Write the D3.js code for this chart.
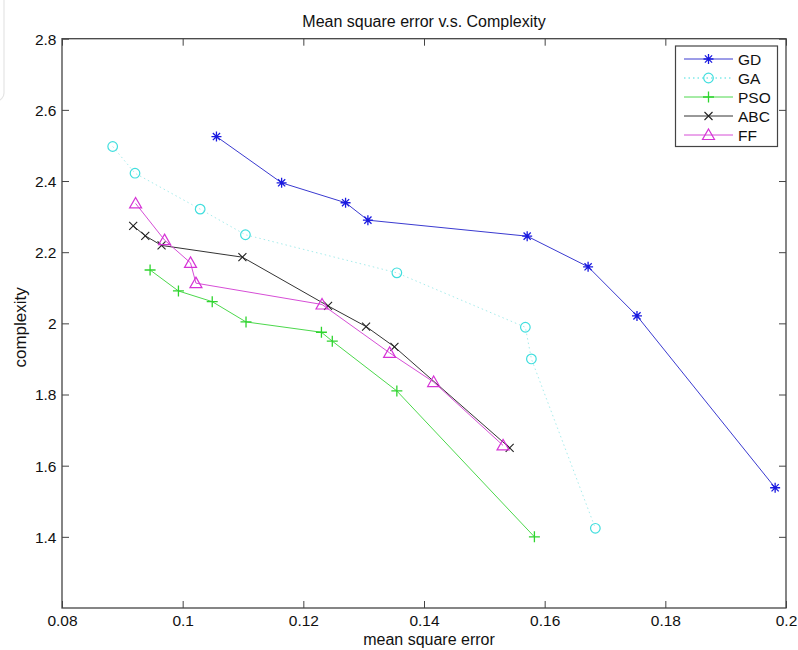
<!DOCTYPE html>
<html><head><meta charset="utf-8">
<script src="https://cdn.jsdelivr.net/npm/d3@7"></script>
<style>body{margin:0;background:#fff}svg{display:block}text{font-family:"Liberation Sans",Arial,sans-serif}</style>
</head><body><svg id="c" width="798" height="650"></svg>
<script>
const seriesNames = ["GD","GA","PSO","ABC","FF"];
const gdX = [0.1056,0.1164,0.1270,0.1307,0.1571,0.1672,0.1753,0.1982];
const gdY = [2.525,2.395,2.339,2.290,2.245,2.159,2.021,1.538];
const gaX = [0.0884,0.0921,0.1029,0.1104,0.1355,0.1568,0.1578,0.1684];
const gaY = [2.497,2.422,2.321,2.249,2.142,1.989,1.900,1.424];
const psoX = [0.0946,0.0993,0.1049,0.1105,0.1230,0.1248,0.1355,0.1583];
const psoY = [2.150,2.091,2.061,2.004,1.975,1.950,1.810,1.400];
const abcX = [0.0918,0.0938,0.0965,0.1099,0.1241,0.1304,0.1351,0.1542];
const abcY = [2.274,2.246,2.219,2.186,2.049,1.991,1.934,1.650];
const ffX = [0.0922,0.0970,0.1013,0.1022,0.1231,0.1343,0.1416,0.1531];
const ffY = [2.337,2.234,2.170,2.113,2.053,1.917,1.835,1.657];
const xTicks = [0.08,0.1,0.12,0.14,0.16,0.18,0.2];
const yTicks = [1.4,1.6,1.8,2,2.2,2.4,2.6,2.8];

const styles = {
  GD:{color:"#1a1ae0", lineColor:"#3a3ad0", marker:"star", dash:null},
  GA:{color:"#40dede", lineColor:"#a6ecec", marker:"circle", dash:"1.5,3"},
  PSO:{color:"#2ed42e", lineColor:"#4cd84c", marker:"plus", dash:null},
  ABC:{color:"#222", lineColor:"#333", marker:"x", dash:null},
  FF:{color:"#d633d6", lineColor:"#d64ed6", marker:"tri", dash:null}
};
const series = [
  {name:"GD", x:gdX, y:gdY},
  {name:"GA", x:gaX, y:gaY},
  {name:"PSO", x:psoX, y:psoY},
  {name:"ABC", x:abcX, y:abcY},
  {name:"FF", x:ffX, y:ffY}
];

const svg = d3.select("#c");
const L=62, R=786, T=38.7, B=608;
const x = d3.scaleLinear().domain([0.08,0.2]).range([L,R]);
const y = d3.scaleLinear().domain([1.2,2.8]).range([B,T]);

// faint artifact at top-left
svg.append("rect").attr("x",-20).attr("y",-10).attr("width",24).attr("height",111).attr("rx",8)
  .attr("fill","none").attr("stroke","#e4e4e4").attr("stroke-width",1.2);

const axisColor = "#444";
const tl = 7;
const gx = svg.append("g").attr("transform",`translate(0,${B})`)
  .call(d3.axisBottom(x).tickValues(xTicks).tickSize(-tl).tickFormat(d=>String(+d.toFixed(2))));
const gxt = svg.append("g").attr("transform",`translate(0,${T})`)
  .call(d3.axisTop(x).tickValues(xTicks).tickSize(-tl).tickFormat(""));
const gy = svg.append("g").attr("transform",`translate(${L},0)`)
  .call(d3.axisLeft(y).tickValues(yTicks).tickSize(-tl).tickFormat(d=>String(+d.toFixed(1))));
const gyr = svg.append("g").attr("transform",`translate(${R},0)`)
  .call(d3.axisRight(y).tickValues(yTicks).tickSize(-tl).tickFormat(""));
[gx,gxt,gy,gyr].forEach(g=>{
  g.select(".domain").remove();
  g.selectAll(".tick line").attr("stroke",axisColor);
  g.selectAll(".tick text").attr("fill","#111").attr("font-size",15.5).attr("font-family","Liberation Sans, Arial, sans-serif");
});
gy.selectAll(".tick text").attr("x",-5.5).attr("dy","0.35em");
gx.selectAll(".tick text").attr("dy",0).attr("y",18.2);
svg.append("rect").attr("x",L).attr("y",T).attr("width",R-L).attr("height",B-T)
  .attr("fill","none").attr("stroke",axisColor).attr("stroke-width",1.3);

function marker(g, type, color, cx, cy){
  if(type==="star"){
    const s=5;
    g.append("path").attr("d",`M${cx-s},${cy}L${cx+s},${cy}M${cx},${cy-s}L${cx},${cy+s}M${cx-3.6},${cy-3.6}L${cx+3.6},${cy+3.6}M${cx-3.6},${cy+3.6}L${cx+3.6},${cy-3.6}`)
      .attr("stroke",color).attr("stroke-width",1.3).attr("fill","none");
  } else if(type==="circle"){
    g.append("circle").attr("cx",cx).attr("cy",cy).attr("r",4.8).attr("fill","none").attr("stroke",color).attr("stroke-width",1.2);
  } else if(type==="plus"){
    const s=5.5;
    g.append("path").attr("d",`M${cx-s},${cy}L${cx+s},${cy}M${cx},${cy-s}L${cx},${cy+s}`).attr("stroke",color).attr("stroke-width",1.3);
  } else if(type==="x"){
    const s=4;
    g.append("path").attr("d",`M${cx-s},${cy-s}L${cx+s},${cy+s}M${cx-s},${cy+s}L${cx+s},${cy-s}`).attr("stroke",color).attr("stroke-width",1.1);
  } else if(type==="tri"){
    const s=6;
    g.append("path").attr("d",`M${cx},${cy-s}L${cx+s},${cy+s*0.75}L${cx-s},${cy+s*0.75}Z`).attr("fill","none").attr("stroke",color).attr("stroke-width",1.2);
  }
}

const line = d3.line().x(d=>x(d[0])).y(d=>y(d[1]));
series.forEach(s=>{
  const st = styles[s.name];
  const pts = s.x.map((v,i)=>[v,s.y[i]]);
  const g = svg.append("g");
  g.append("path").attr("d",line(pts)).attr("fill","none").attr("stroke",st.lineColor)
    .attr("stroke-width",1).attr("stroke-dasharray",st.dash);
  pts.forEach(p=>marker(g, st.marker, st.color, x(p[0]), y(p[1])));
});

// legend
const lg = svg.append("g");
lg.append("rect").attr("x",675.5).attr("y",46).attr("width",102).attr("height",100.5)
  .attr("fill","#fff").attr("stroke",axisColor).attr("stroke-width",1.2);
series.forEach((s,i)=>{
  const st = styles[s.name];
  const yy = 59 + i*19;
  lg.append("line").attr("x1",684).attr("x2",733).attr("y1",yy).attr("y2",yy)
    .attr("stroke",st.dash?st.color:st.lineColor).attr("stroke-width",1).attr("stroke-dasharray",st.dash);
  marker(lg, st.marker, st.color, 708.5, yy);
  lg.append("text").attr("x",738).attr("y",yy).attr("dy","0.36em").attr("font-size",15.5).attr("fill","#111").text(s.name);
});

svg.append("text").attr("x",(L+R)/2).attr("y",26.7).attr("text-anchor","middle").attr("font-size",16).attr("fill","#111")
  .text("Mean square error v.s. Complexity");
svg.append("text").attr("x",(L+R)/2 + 5).attr("y",645).attr("text-anchor","middle").attr("font-size",16).attr("fill","#111")
  .text("mean square error");
svg.append("text").attr("transform",`translate(25.5,${(T+B)/2 + 4}) rotate(-90)`).attr("text-anchor","middle").attr("font-size",17).attr("fill","#111")
  .text("complexity");
</script></body></html>
